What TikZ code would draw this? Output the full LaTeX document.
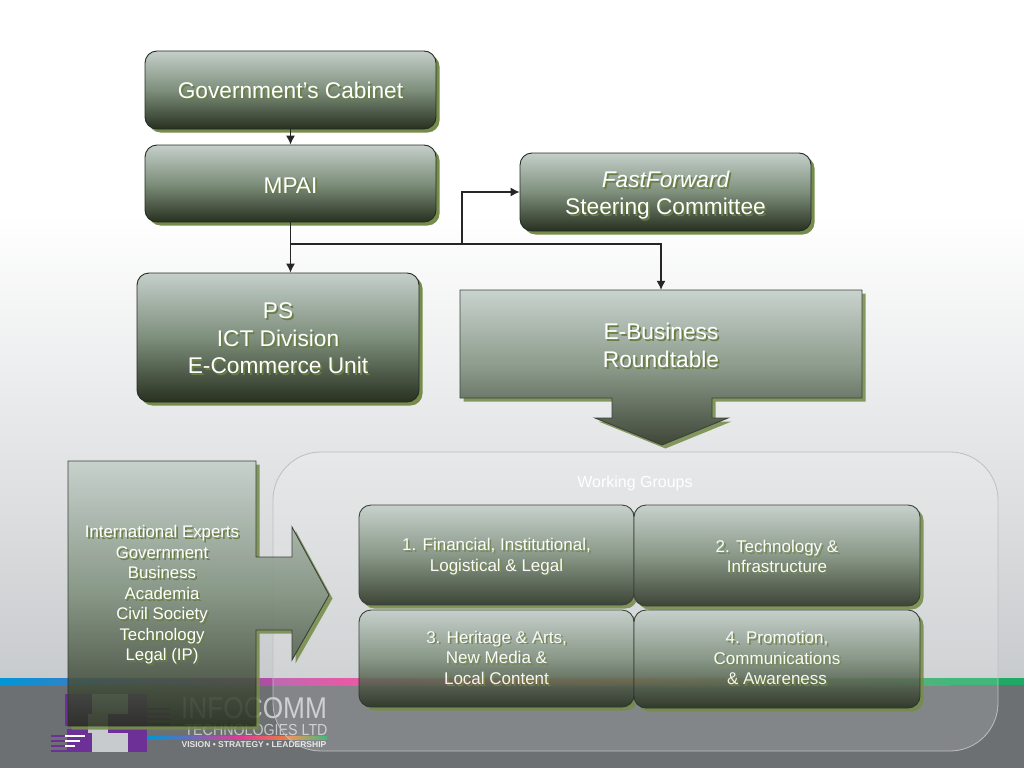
\documentclass[tikz,border=0pt]{standalone}
\usepackage{fontspec}
\setmainfont{Liberation Sans}
\usetikzlibrary{arrows.meta}
\usetikzlibrary{shadows}
\usetikzlibrary{positioning}

\definecolor{panelTop}{RGB}{196,207,202}
\definecolor{panelMid}{RGB}{126,143,124}
\definecolor{panelLow}{RGB}{40,48,32}
\definecolor{panelEdge}{RGB}{36,44,36}
\definecolor{panelShadow}{RGB}{118,140,74}
\definecolor{bandBlue}{RGB}{0,150,214}
\definecolor{bandPink}{RGB}{226,58,150}
\definecolor{bandOrange}{RGB}{232,130,60}
\definecolor{bandGreen}{RGB}{30,170,100}
\definecolor{slate}{RGB}{108,112,114}
\definecolor{paleGrey}{RGB}{200,203,205}
\definecolor{logoPurple}{RGB}{108,48,150}

% white label with its olive drop behind it
\newcommand{\liftedtext}[1]{\leavevmode\rlap{\raisebox{-1.8pt}{\kern1.8pt\textcolor{panelShadow!90!black}{#1}}}#1}
% taller first line, pushes a label down in its box
\newcommand{\pushdown}[1]{\rule{0pt}{#1}}

\begin{document}
\begin{tikzpicture}[x=1pt,y=-1pt,
        panelbase/.style={draw=panelEdge,line width=.9pt,
            top color=panelTop,bottom color=panelLow,middle color=panelMid,
            drop shadow={shadow xshift=3.5pt,shadow yshift=-3.5pt,fill=panelShadow,opacity=1}},
        roundpanel/.style={panelbase,rounded corners=12pt,align=center,text=white},
        headbox/.style={roundpanel,font=\fontsize{22.7}{27.5}\selectfont},
        groupbox/.style={roundpanel,font=\fontsize{17}{20.6}\selectfont},
        arrowlabel/.style={align=center,text=white,inner sep=0pt},
        feed/.style={draw=black!85,line width=1.1pt,-{Latex[length=9pt,width=9pt]}}]

    % backdrop
    \useasboundingbox (0,0) rectangle (1024,768);
    \fill[white] (0,0) rectangle (1024,215);
    \shade[top color=white,bottom color=paleGrey] (0,215) rectangle (1024,679);
    \fill[slate] (0,684) rectangle (1024,768);
    \shade[left color=bandBlue,right color=bandPink] (0,678) rectangle (345,685);
    \shade[left color=bandPink,right color=bandOrange] (345,678) rectangle (620,685);
    \shade[left color=bandOrange,right color=bandGreen] (620,678) rectangle (950,685);
    \fill[bandGreen] (950,678) rectangle (1024,685);

    % logo
    \fill[logoPurple] (65,694) rectangle (147,726);
    \fill[logoPurple] (67,729) rectangle (147,752);
    \fill[paleGrey] (92,694) rectangle (128,714);
    \fill[paleGrey] (88,714) rectangle (108,733);
    \fill[paleGrey] (92,733) rectangle (128,752);
    \foreach \y in {735,740,745,750} {
        \fill[logoPurple] (51,\y) rectangle (68,\y+1.5);
    }
    \fill[white] (65,735) rectangle (85,736.5);
    \fill[white] (65,740) rectangle (80,741.5);
    \fill[white] (65,745) rectangle (75,746.5);
    \foreach \y in {708,713,718,723} {
        \fill[logoPurple] (147,\y) rectangle (170,\y+1.5);
    }
    \shade[left color=bandBlue,right color=bandPink] (148,736) rectangle (240,739);
    \shade[left color=bandPink,right color=bandOrange] (240,736) rectangle (290,739);
    \shade[left color=bandOrange,right color=bandGreen] (290,736) rectangle (327,739);
    \node[text=white!78!black,font=\fontsize{30}{30}\selectfont,inner sep=0pt,xscale=.875] (logoname) at (254,708) {INFOCOMM};
    \node[text=white!78!black,font=\fontsize{16}{16}\selectfont,inner sep=0pt,xscale=.89] (logoline) at (256,729.5) {TECHNOLOGIES LTD};
    \node[text=white!90!black,font=\bfseries\fontsize{8.5}{8.5}\selectfont,inner sep=0pt] (logotag) at (254,745) {VISION • STRATEGY • LEADERSHIP};

    % working groups frame
    \path[draw=white!75!black,line width=.8pt,fill=white,fill opacity=.16,rounded corners=48pt]
        (273,452) rectangle (998,751);
    \node[text=white,font=\fontsize{16}{20}\selectfont] (wgtitle) at (635,483) {Working Groups};

    % the two block arrows
    \begin{scope}[transparency group,opacity=.88]
    \path[panelbase] (460,290) -- (862,290) -- (862,398) -- (712,398) -- (712,418) -- (728,418)
        -- (662,445) -- (595,418) -- (612,418) -- (612,398) -- (460,398) -- cycle;
    \path[panelbase] (68,461) -- (256,461) -- (256,557) -- (292,557) -- (292,527) -- (329,595)
        -- (292,660) -- (292,630) -- (256,630) -- (256,726) -- (68,726) -- cycle;
    \end{scope}

    \node[headbox,minimum width=291pt,minimum height=78pt] (cabinet) at (290.5,90) {\pushdown{19pt}\liftedtext{Government’s Cabinet}};
    \node[headbox,minimum width=291pt,minimum height=77pt] (mpai) at (290.5,183.5) {\pushdown{21pt}\liftedtext{MPAI}};
    \node[headbox,minimum width=291pt,minimum height=78pt] (fastforward) at (665.5,192) {\pushdown{25pt}\liftedtext{\itshape FastForward}\\\liftedtext{Steering Committee}};
    \node[headbox,minimum width=282pt,minimum height=129pt] (ps) at (278,337.5) {\pushdown{20pt}\liftedtext{PS}\\\liftedtext{ICT Division}\\\liftedtext{E-Commerce Unit}};

    \node[arrowlabel,font=\fontsize{22.7}{27.5}\selectfont,minimum width=402pt,minimum height=108pt] (roundtable) at (661,344) {\pushdown{21pt}\liftedtext{E-Business}\\\liftedtext{Roundtable}};
    \node[arrowlabel,font=\fontsize{16.8}{20.5}\selectfont] (experts) at (162,594) {\pushdown{16pt}\liftedtext{International Experts}\\\liftedtext{Government}\\\liftedtext{Business}\\\liftedtext{Academia}\\\liftedtext{Civil Society}\\\liftedtext{Technology}\\\liftedtext{Legal (IP)}};

    \begin{scope}[transparency group,opacity=.88]
    \node[groupbox,minimum width=275pt,minimum height=100pt] (groupa) at (496.5,555) {\pushdown{17pt}\liftedtext{1. Financial, Institutional,}\\\liftedtext{Logistical \& Legal}};
    \node[groupbox,minimum width=286pt,minimum height=101pt] (groupb) at (777,555.5) {\pushdown{16pt}\liftedtext{2. Technology \&}\\\liftedtext{Infrastructure}};
    \node[groupbox,minimum width=275pt,minimum height=97pt] (groupc) at (496.5,658.5) {\liftedtext{3. Heritage \& Arts,}\\\liftedtext{New Media \&}\\\liftedtext{Local Content}};
    \node[groupbox,minimum width=286pt,minimum height=98pt] (groupd) at (777,659) {\liftedtext{4. Promotion,}\\\liftedtext{Communications}\\\liftedtext{\& Awareness}};
    \end{scope}

    % connectors
    \coordinate (split) at (mpai.south |- 0,244);
    \coordinate (fork) at (462,244);
    \draw[feed] (cabinet) -- (mpai);
    \draw[feed] (mpai) -- (ps.north -| mpai.south);
    \draw[feed] (split) -| (roundtable.north);
    \draw[feed] (fork) |- (fastforward.west);
\end{tikzpicture}
\end{document}
